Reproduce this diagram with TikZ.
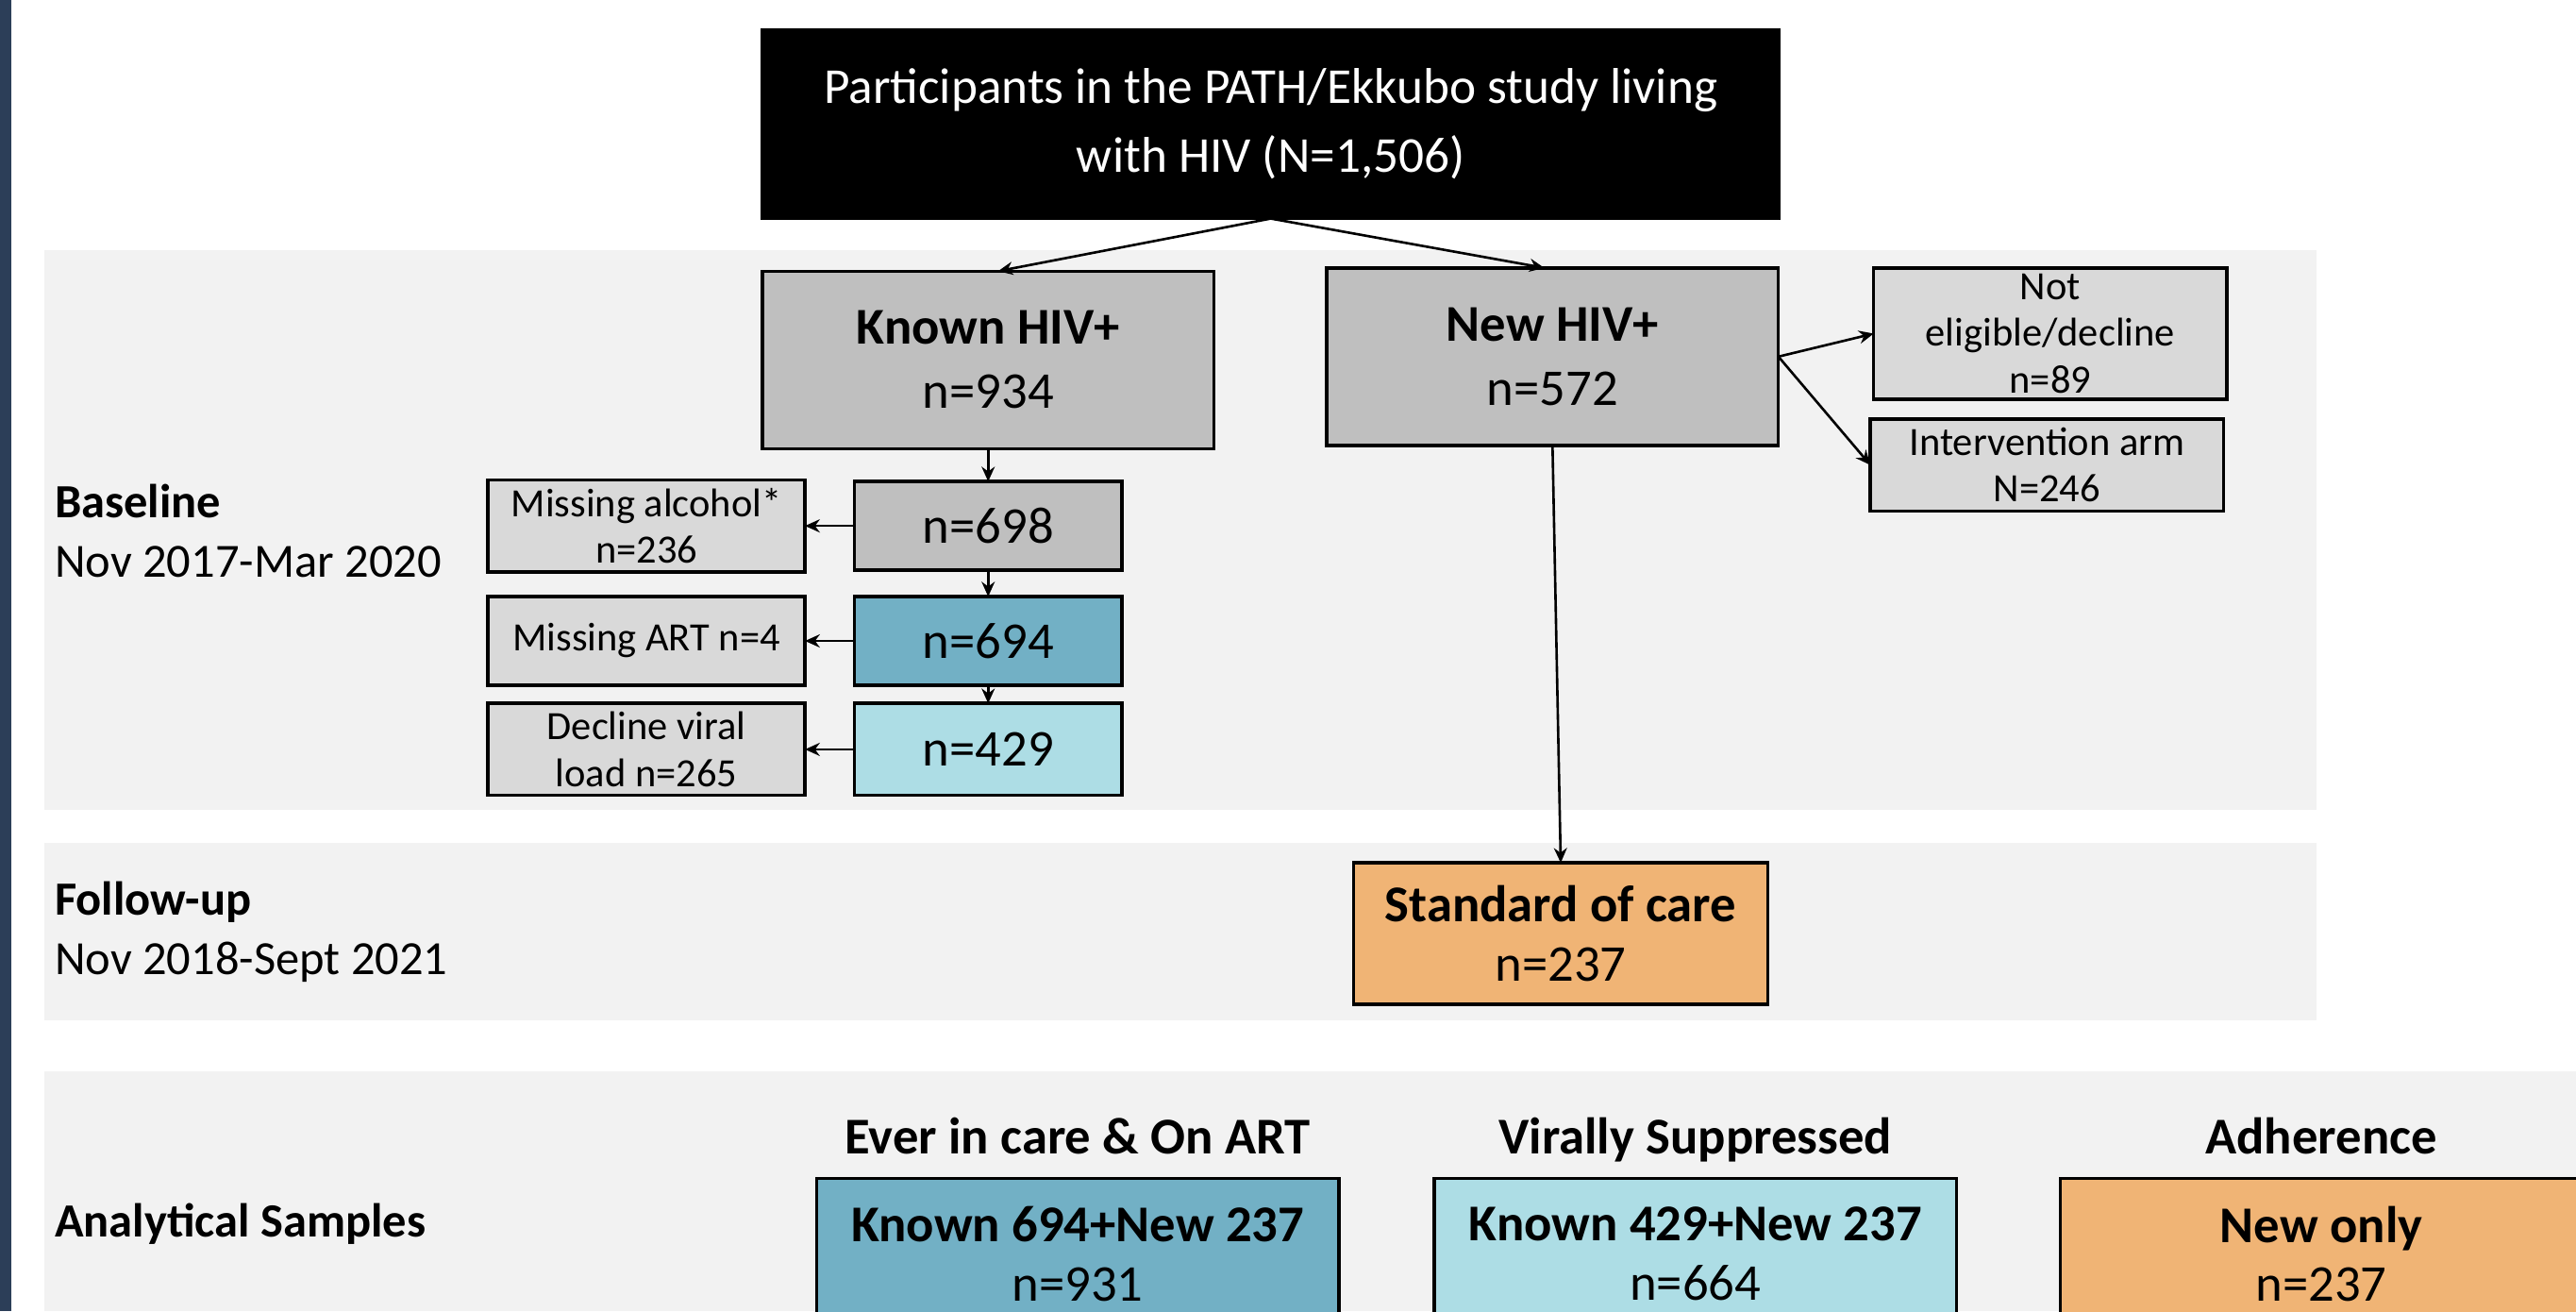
\documentclass[tikz,border=0pt]{standalone}
\usepackage{fontspec}
\setmainfont{Carlito}
\usetikzlibrary{positioning,arrows.meta}

\definecolor{strip}{HTML}{2C3E58}
\definecolor{band}{HTML}{F2F2F2}
\definecolor{midgray}{HTML}{BFBFBF}
\definecolor{litegray}{HTML}{D9D9D9}
\definecolor{artblue}{HTML}{72B0C5}
\definecolor{vlcyan}{HTML}{ADDDE5}
\definecolor{socorange}{HTML}{F0B475}

\begin{document}
\begin{tikzpicture}[
    x=0.5pt, y=-0.5pt,
    node distance=10pt and 15pt,
 mybox/.style = {
        draw, rectangle, align=center, line width=1pt,
        inner sep=1pt, outer sep=0pt},
 bigbox/.style = {
        mybox, fill=midgray, minimum width=137.5pt, minimum height=54pt,
        font=\fontsize{15.7}{19.5}\selectfont},
 numbox/.style = {
        mybox, minimum width=81.5pt, minimum height=27pt,
        font=\fontsize{15.7}{19.5}\selectfont},
 dropbox/.style = {
        mybox, fill=litegray, minimum width=96.5pt, minimum height=27pt,
        font=\fontsize{12.2}{14.2}\selectfont},
 sampbox/.style = {
        mybox, minimum width=159pt, minimum height=46pt, anchor=north,
        font=\fontsize{15.7}{18}\selectfont},
 phase/.style = {
        align=left, anchor=west, inner sep=0pt,
        font=\fontsize{14.5}{18}\selectfont},
 colhead/.style = {
        inner sep=0pt, anchor=base,
        font=\fontsize{15.7}{18}\selectfont\bfseries},
     arrow/.style = {line width=0.75pt,-{Stealth[length=4.5pt,width=4pt]}}
                    ]
\clip (0,0) rectangle (1568,798);
\fill[white] (0,0) rectangle (1568,798);
% the dark strip and the phase bands
\fill[strip] (0,0) rectangle (7,798);
\fill[band] (27,152) rectangle (1410,493);
\fill[band] (27,513) rectangle (1410,621);
\fill[band] (27,652) rectangle (1568,798);
% the node at the top
\node (top) [mybox, fill=black, text=white, minimum width=309.5pt,
             minimum height=57.5pt, font=\fontsize{15.3}{21}\selectfont]
             at (773.5,75.5) {Participants in the PATH/Ekkubo study living\\
                              with HIV (N=1,506)};
% the two branches
\node (known) [bigbox] at (601.5,219) {\textbf{Known HIV+}\\ n=934};
\node (new)   [bigbox] at (945,217)   {\textbf{New HIV+}\\ n=572};
% the chain below the known ones
\node (n698) [numbox, fill=midgray, below=10pt of known]  {n=698};
\node (n694) [numbox, fill=artblue, below=8pt of n698]    {n=694};
\node (n429) [numbox, fill=vlcyan, minimum height=28pt,
              below=5.5pt of n694]                         {n=429};
\node (miss1) [dropbox, minimum height=28pt, left=of n698] {Missing alcohol*\\
                                                            n=236};
\node (miss2) [dropbox, left=of n694]                      {Missing ART n=4};
\node (miss3) [dropbox, minimum height=28pt, left=of n429] {Decline viral\\
                                                            load n=265};
% the branches to the right of the new ones
\node (noteli) [dropbox, minimum width=107.5pt, minimum height=40pt,
                inner sep=0pt, anchor=north west]
                at ([xshift=29pt] new.north east) {Not\\
                                                   eligible/decline\\
                                                   n=89};
\node (interv) [dropbox, minimum width=107.5pt, minimum height=28pt,
                below=6pt of noteli, xshift=-1pt] {Intervention arm\\
                                                   N=246};
% follow-up
\node (soc) [mybox, fill=socorange, minimum width=126pt, minimum height=43pt,
             font=\fontsize{15.7}{18}\selectfont]
             at (950,568) {\textbf{Standard of care}\\ n=237};
% the labels on the left
\node (base) [phase] at (33,323) {\textbf{Baseline}\\ Nov 2017-Mar 2020};
\node (fup)  [phase] at (33,567) {\textbf{Follow-up}\\ Nov 2018-Sept 2021};
\node (anal) [phase] at (33,745) {\textbf{Analytical Samples}};
% the analytical samples
\node (art) [sampbox, fill=artblue] at (656,717) {\textbf{Known 694+New 237}\\
                                                  n=931};
\node (vs)  [sampbox, fill=vlcyan, right=29pt of art] {\textbf{Known 429+New 237}\\
                                                       n=664};
\node (adh) [sampbox, fill=socorange, right=31.5pt of vs] {\textbf{New only}\\
                                                           n=237};
\node (arthd) [colhead] at ([yshift=7.5pt] art.north) {Ever in care \& On ART};
\node (vshd)  [colhead] at ([yshift=7.5pt] vs.north)  {Virally Suppressed};
\node (adhhd) [colhead] at ([yshift=7.5pt] adh.north) {Adherence};
% the arrows
\draw[arrow] (top.south) -- ([xshift=3pt] known.north);
\draw[arrow] (top.south) -- ([xshift=-2.5pt] new.north);
\draw[arrow] (known) -- (n698);
\draw[arrow] (n698) -- (n694);
\draw[arrow] (n694) -- (n429);
\draw[arrow] (n698) -- (miss1);
\draw[arrow] (n694) -- (miss2);
\draw[arrow] (n429) -- (miss3);
\draw[arrow] (new.east) -- (noteli.west);
\draw[arrow] (new.east) -- (interv.west);
\draw[arrow] (new.south) -- (soc.north);
\end{tikzpicture}
\end{document}
